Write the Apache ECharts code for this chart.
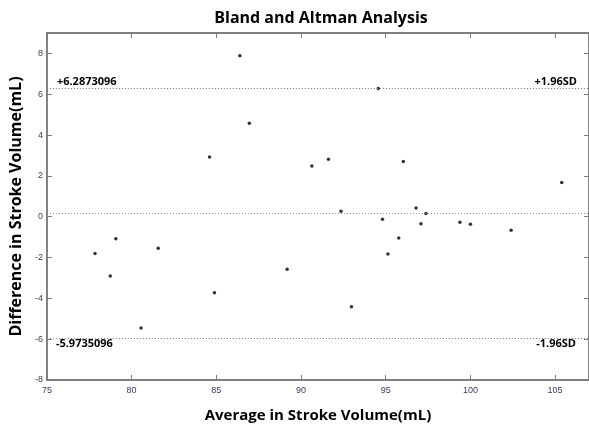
<!DOCTYPE html>
<html>
<head>
<meta charset="utf-8">
<script src="https://cdn.jsdelivr.net/npm/echarts@6/dist/echarts.min.js"></script>
<style>
  html, body { margin: 0; padding: 0; background: #fff; }
  #box { width: 589px; height: 428px; }
</style>
</head>
<body>
<div id="box"></div>
<script>
  // averages (x) and differences (y)
  const averages = [
    86.39, 86.95, 84.60, 90.64, 94.56, 91.62, 96.04, 105.39, 92.36, 96.79,
    97.37, 77.84, 79.07, 78.74, 81.57, 84.89, 89.18, 80.56, 94.81, 97.08,
    99.38, 100.0, 102.40, 95.77, 95.13, 92.98,
  ];
  const differences = [
    7.88, 4.58, 2.92, 2.48, 6.28, 2.82, 2.71, 1.67, 0.27, 0.43,
    0.16, -1.80, -1.08, -2.90, -1.54, -3.72, -2.58, -5.45, -0.13, -0.34,
    -0.27, -0.37, -0.66, -1.04, -1.83, -4.41,
  ];
  const upperLimit = 6.2873096;
  const lowerLimit = -5.9735096;
  const meanDiff = (upperLimit + lowerLimit) / 2;
  const xRange = [75, 107];
  const yRange = [-8, 9];

  const tickFont = { color: '#3a3a5c', fontSize: 9, fontFamily: 'Liberation Sans' };
  const frame = { show: true, onZero: false, lineStyle: { color: '#7a7a7a', width: 1.5 } };
  const ticks = { show: true, inside: true, length: 5, lineStyle: { color: '#7a7a7a' } };
  const limitLabel = {
    show: true,
    color: '#000',
    fontFamily: 'Open Sans',
    fontWeight: 'bold',
    fontSize: 11,
  };
  const dotted = { color: '#8a8a8a', type: [1, 2], width: 1 };

  const box = document.getElementById('box');
  const chart = echarts.init(box);

  const points = averages.map((v, i) => [v, differences[i]]);

  chart.setOption({
    animation: false,
    title: {
      text: 'Bland and Altman Analysis',
      left: 316,
      textAlign: 'center',
      top: 5,
      textStyle: { fontFamily: 'Open Sans', fontWeight: 'bold', fontSize: 16, color: '#000' },
    },
    grid: {
      left: 43, top: 33, width: 547, height: 352,
      show: true, borderColor: '#7a7a7a', borderWidth: 1.5,
    },
    xAxis: [
      {
        type: 'value',
        min: xRange[0],
        max: xRange[1],
        interval: 5,
        splitLine: { show: false },
        axisLine: frame,
        axisTick: ticks,
        axisLabel: { ...tickFont, margin: 6, showMaxLabel: false },
        name: 'Average in Stroke Volume(mL)',
        nameLocation: 'middle',
        nameGap: 28,
        nameTextStyle: { fontFamily: 'Open Sans', fontWeight: 'bold', fontSize: 15, color: '#000' },
      },
      {
        type: 'value',
        position: 'top',
        min: xRange[0],
        max: xRange[1],
        interval: 5,
        splitLine: { show: false },
        axisLine: frame,
        axisTick: ticks,
        axisLabel: { show: false },
      },
    ],
    yAxis: [
      {
        type: 'value',
        min: yRange[0],
        max: yRange[1],
        interval: 2,
        splitLine: { show: false },
        axisLine: frame,
        axisTick: ticks,
        axisLabel: { ...tickFont, margin: 4, showMaxLabel: false },
        name: 'Difference in Stroke Volume(mL)',
        nameLocation: 'middle',
        nameGap: 22,
        nameTextStyle: { fontFamily: 'Open Sans', fontWeight: 'bold', fontSize: 16, color: '#000' },
      },
      {
        type: 'value',
        position: 'right',
        min: yRange[0],
        max: yRange[1],
        interval: 2,
        splitLine: { show: false },
        axisLine: frame,
        axisTick: ticks,
        axisLabel: { show: false },
      },
    ],
    series: [
      {
        type: 'scatter',
        data: points,
        symbolSize: 3.5,
        itemStyle: { color: '#000' },
        markLine: {
          silent: true,
          symbol: 'none',
          lineStyle: dotted,
          data: [
            { yAxis: upperLimit, label: { ...limitLabel, position: 'insideStartTop', formatter: '+' + upperLimit, distance: [10, 1] } },
            { yAxis: upperLimit, label: { ...limitLabel, position: 'insideEndTop', formatter: '+1.96SD', distance: [12, 1] } },
            { yAxis: meanDiff, label: { show: false } },
            { yAxis: lowerLimit, label: { ...limitLabel, position: 'insideStartBottom', formatter: String(lowerLimit), distance: [9, 0] } },
            { yAxis: lowerLimit, label: { ...limitLabel, position: 'insideEndBottom', formatter: '-1.96SD', distance: [13, 0] } },
          ],
        },
      },
    ],
  });
</script>
</body>
</html>
